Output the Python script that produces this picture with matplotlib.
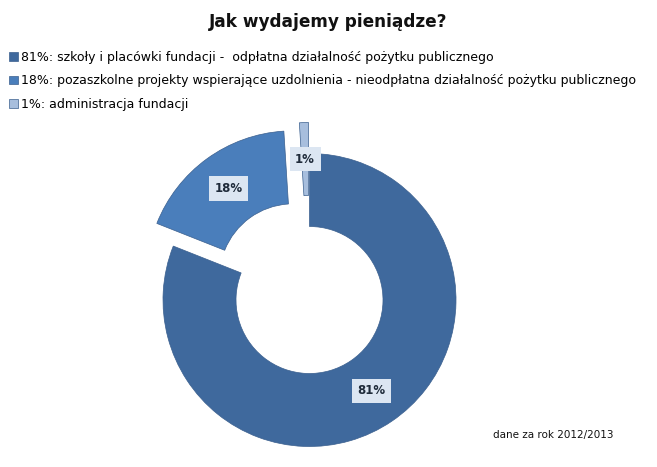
import matplotlib.pyplot as plt

labels = ['81%: szkoły i placówki fundacji -  odpłatna działalność pożytku publicznego',
          '18%: pozaszkolne projekty wspierające uzdolnienia - nieodpłatna działalność pożytku publicznego',
          '1%: administracja fundacji']
values = [81, 18, 1]
explode = [0, 28, 31]  # pie() takes these in data units
colors = ['#3F699D', '#4A7EBB', '#A7BEDD']

fig = plt.figure(figsize=(6.57, 4.67), dpi=100)
ax = fig.add_axes([0, 0, 1, 1])

wedges, texts, autotexts = ax.pie(values, explode=explode, colors=colors,
                                  startangle=90, counterclock=False,
                                  center=(309.5, 167), radius=146.5,
                                  autopct='%d%%', pctdistance=0.75,
                                  wedgeprops=dict(width=73, edgecolor='#3A5F8E', linewidth=0.5),
                                  textprops=dict(fontsize=8.5, fontweight='bold', color='#1F2B3A'),
                                  frame=True)
ax.set_xlim(0, 657)
ax.set_ylim(0, 467)
ax.set_aspect('equal')
ax.axis('off')
for t in autotexts:
    t.set_bbox(dict(facecolor='#DCE6F2', edgecolor='none', pad=4))

fig.text(0.5, 0.953, 'Jak wydajemy pieniądze?', ha='center', va='center',
         fontsize=12.2, fontweight='bold', color='#111111')

leg = fig.legend(wedges, labels, loc='upper left', bbox_to_anchor=(0.0, 0.91),
                 frameon=False, fontsize=9.0, handlelength=0.7, handleheight=0.7,
                 handletextpad=0.25, labelspacing=0.85, borderaxespad=0.3)

fig.text(0.75, 0.068, 'dane za rok 2012/2013', ha='left', va='center',
         fontsize=7.5, color='#111111')

fig.savefig('out.png', dpi=100, facecolor='white')
